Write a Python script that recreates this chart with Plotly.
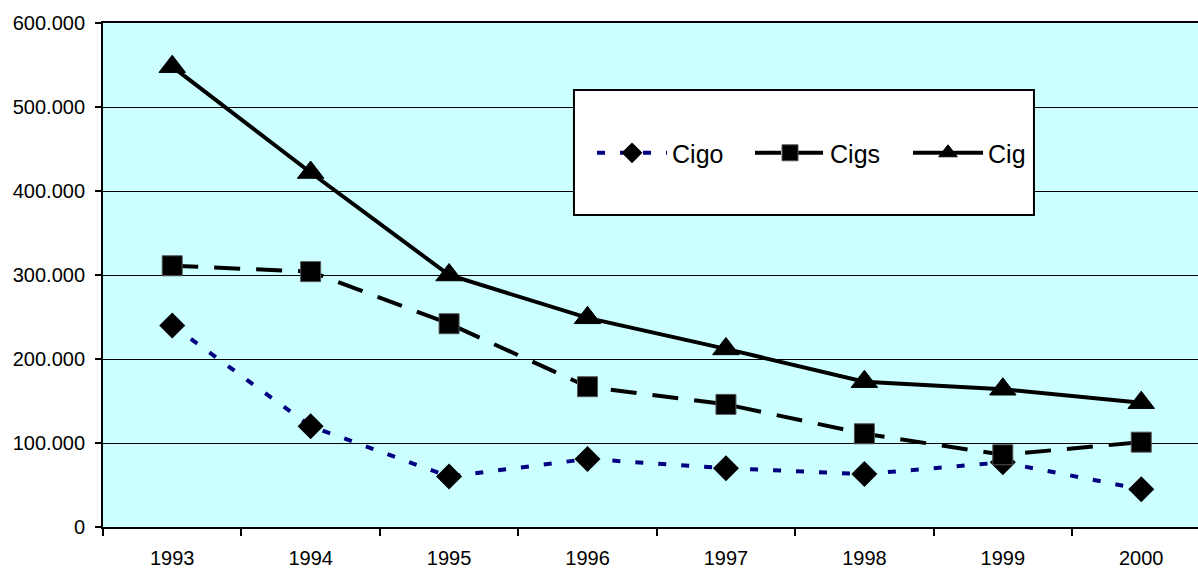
import plotly.graph_objects as go

# Yearly values (units)
years = ["1993", "1994", "1995", "1996", "1997", "1998", "1999", "2000"]
cigo = [240000, 120000, 60000, 81000, 70000, 63000, 77000, 45000]
cigs = [311000, 304000, 242000, 167000, 146000, 111000, 86000, 101000]
cig = [548000, 422000, 300000, 249000, 212000, 173000, 164000, 148000]

y_ticks = [0, 100000, 200000, 300000, 400000, 500000, 600000]

FONT = "Liberation Sans, Arial, sans-serif"

fig = go.Figure()

fig.add_trace(go.Scatter(
    x=years, y=cigo, name="Cigo", mode="lines+markers",
    line=dict(color="#000080", width=4, dash="8px,15px"),
    marker=dict(symbol="diamond", size=20, color="black"),
))
fig.add_trace(go.Scatter(
    x=years, y=cigs, name="Cigs", mode="lines+markers",
    line=dict(color="black", width=4, dash="26px,16px"),
    marker=dict(symbol="square", size=20, color="black",
                line=dict(color="#555555", width=1)),
))
fig.add_trace(go.Scatter(
    x=years, y=cig, name="Cig", mode="lines+markers",
    line=dict(color="black", width=4),
    marker=dict(symbol="triangle-up", size=23, color="black",
                line=dict(color="black", width=1)),
))

# Legend frame
fig.add_shape(
    type="rect", xref="paper", yref="paper",
    x0=0.4301, x1=0.8502, y0=0.619, y1=0.867,
    fillcolor="white", line=dict(color="black", width=2), layer="above",
)

fig.update_layout(
    width=1198, height=568,
    margin=dict(l=103, r=0, t=23, b=41),
    paper_bgcolor="white",
    plot_bgcolor="#CCFFFF",
    separators=",.",
    font=dict(family=FONT, size=20, color="black"),
    showlegend=True,
    legend=dict(
        orientation="h", x=0.4466, y=0.742, xanchor="left", yanchor="middle",
        bgcolor="rgba(0,0,0,0)", borderwidth=0,
        font=dict(family=FONT, size=25, color="black"),
        itemwidth=70,
        entrywidth=73, entrywidthmode="pixels",
    ),
    xaxis=dict(
        type="category", categoryorder="array", categoryarray=years,
        range=[-0.5, 7.41],
        tickson="boundaries", ticks="outside", ticklen=7, tickwidth=1.5,
        tickcolor="black", showgrid=False,
        showline=True, linecolor="black", linewidth=2, mirror=True,
        ticklabelstandoff=12, zeroline=False,
    ),
    yaxis=dict(
        range=[0, 600000], tickvals=y_ticks, tickformat=",d",
        ticks="outside", ticklen=6, tickwidth=1.5, tickcolor="black",
        showgrid=True, gridcolor="black", gridwidth=1,
        showline=True, linecolor="black", linewidth=2,
        zeroline=False, ticklabelstandoff=6,
    ),
)

fig.write_html("out.html")
